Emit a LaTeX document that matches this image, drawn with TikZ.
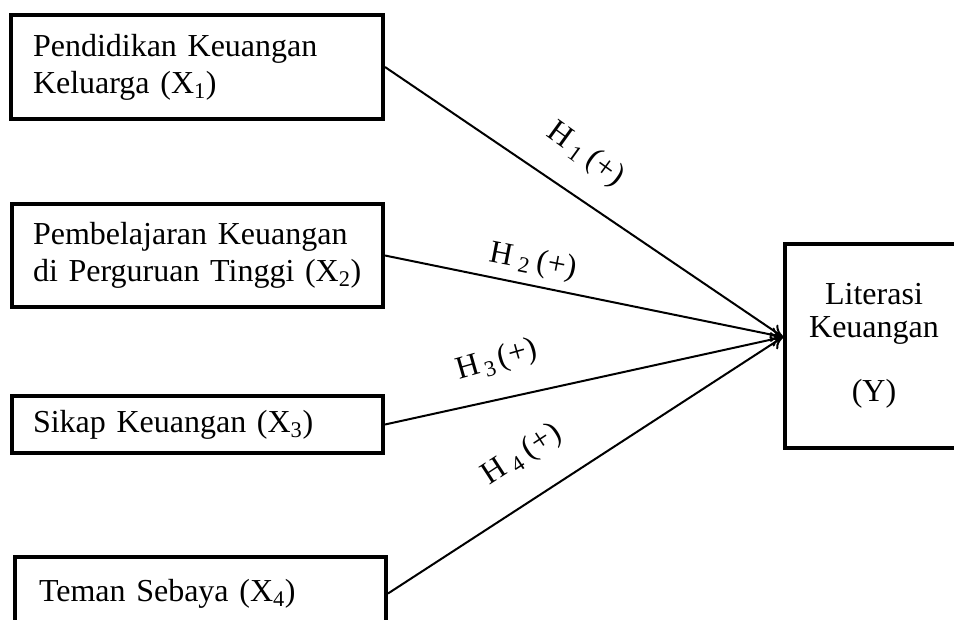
\documentclass[tikz,border=0pt]{standalone}
\usepackage{fontspec}
\setmainfont{Liberation Serif}
\usetikzlibrary{arrows.meta}
\begin{document}
\begin{tikzpicture}[x=0.75pt,y=-0.75pt,
  box/.style={draw,line width=3pt,rectangle,inner ysep=0pt,
    font=\fontsize{24}{27.75}\selectfont,align=left},
  conn/.style={line width=1.5pt,-{To[length=9pt,width=11pt,line width=1.5pt]}},
  hyp/.style={font=\fontsize{24}{26}\selectfont,inner sep=0pt}]
\useasboundingbox (0,0) rectangle (954,619);
\clip (0,0) rectangle (954,619);
\node[box,minimum height=78pt,text width=246pt,inner xsep=16.5pt] (b1) at (197,67)
  {Pendidikan Keuangan\\Keluarga (X\textsubscript{1})};
\node[box,minimum height=77.25pt,text width=246.75pt,inner xsep=15.75pt] (b2) at (197.5,255.5)
  {Pembelajaran Keuangan\\di Perguruan Tinggi (X\textsubscript{2})};
\node[box,minimum height=42.75pt,text width=246.75pt,inner xsep=15.75pt] (b3) at (197.5,424.5)
  {Sikap Keuangan (X\textsubscript{3})};
\node[box,minimum height=54.75pt,text width=242.25pt,inner xsep=18pt] (b4) at (200.5,593.5)
  {Teman Sebaya (X\textsubscript{4})};
\node[box,align=center,minimum width=133.5pt,minimum height=153pt] (y) at (874,346)
  {Literasi\\[-3pt]Keuangan\\[20.25pt](Y)};
\coordinate (tip) at ([yshift=6.75pt]y.west);
\draw[conn] (b1.east) -- (tip);
\draw[conn] (b2.east) -- (tip);
\draw[conn] (b3.east) -- (tip);
\draw[conn] (b4.east) -- (tip);
\node[hyp,rotate=-36] (h1) at (585,155) {H\hspace{5pt}\textsubscript{1}\hspace{5pt}(+)};
\node[hyp,rotate=-11] (h2) at (533,262) {H\hspace{5pt}\textsubscript{2}\hspace{5pt}(+)};
\node[hyp,rotate=16] (h3) at (497,361) {H\hspace{3pt}\textsubscript{3}\hspace{3pt}(+)};
\node[hyp,rotate=33] (h4) at (522,455) {H\hspace{5pt}\textsubscript{4}\hspace{5pt}(+)};
\end{tikzpicture}
\end{document}
